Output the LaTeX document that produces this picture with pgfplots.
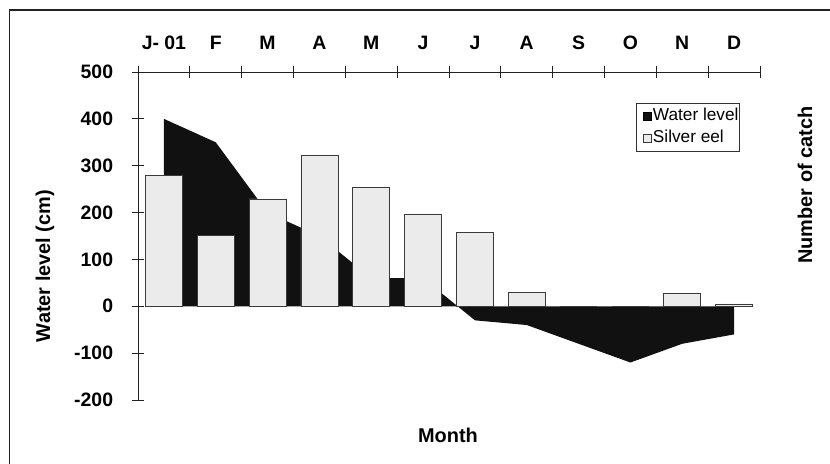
\documentclass[border=0pt]{standalone}
\usepackage{pgfplots}
\pgfplotsset{compat=1.18}
\usepackage{fontspec}
\setmainfont{Liberation Sans}
\definecolor{wl}{HTML}{111111}
\definecolor{eel}{HTML}{EBEBEB}
\definecolor{edge}{HTML}{3A3A3A}
\definecolor{axc}{HTML}{222222}
\begin{document}
\begin{tikzpicture}
\begin{axis}[
  at={(138bp,64bp)}, anchor=south west,
  scale only axis, width=622bp, height=328bp,
  xmin=0, xmax=12, ymin=-200, ymax=500,
  axis x line=top, axis y line=left,
  axis line style={-, line width=0.8bp, draw=axc},
  tick align=center,
  ytick={-200,-100,0,100,200,300,400,500},
  yticklabels={-200,-100,0,100,200,300,400,500},
  major tick length=12bp, minor tick length=12bp,
  xtick={0.5,1.5,2.5,3.5,4.5,5.5,6.5,7.5,8.5,9.5,10.5,11.5},
  xticklabels={J- 01,F,M,A,M,J,J,A,S,O,N,D},
  minor xtick={0,1,2,3,4,5,6,7,8,9,10,11,12},
  every major x tick/.style={draw=none},
  every minor x tick/.style={line width=0.8bp, draw=axc},
  every major y tick/.style={line width=0.8bp, draw=axc},
  ticklabel style={font=\bfseries\fontsize{19.5}{22}\selectfont, inner sep=0pt},
  xticklabel shift=16bp,
  yticklabel style={anchor=east, xshift=-18.7bp},
  legend style={at={(rel axis cs:0.9667,0.9055)}, anchor=north east, draw=black!80, line width=0.6bp,
    font=\fontsize{17.3}{20}\selectfont, inner xsep=0bp, inner ysep=3.5bp, row sep=3bp,
    nodes={inner xsep=0.5bp, inner ysep=1.5bp, text height=12.5bp, text depth=3.5bp},
    cells={anchor=west}},
  legend image code/.code={\path[draw=none, fill=none] (0bp,0bp) -- (16bp,0bp);
    \draw[#1, line width=0.5bp] (6.5bp,-4bp) rectangle (14.5bp,4bp);},
  clip=false,
]
\addplot[fill=wl, draw=none] coordinates {
  (0.5,0) (0.5,400) (1.5,350) (2.5,200) (3.5,150) (4.5,60) (5.5,60)
  (6.5,-30) (7.5,-40) (8.5,-80) (9.5,-120) (10.5,-80) (11.5,-60) (11.5,0)
};
\addlegendentry{Water level}
\addplot[ybar, bar width=37bp, fill=eel, draw=edge, line width=0.8bp] coordinates {
  (0.5,280) (1.5,151) (2.5,229) (3.5,323) (4.5,254) (5.5,197)
  (6.5,158) (7.5,29) (8.5,0) (9.5,0) (10.5,27) (11.5,5)
};
\addlegendentry{Silver eel}
\end{axis}
\node[rotate=90, font=\bfseries\fontsize{20}{22}\selectfont] at (45bp,198bp) {Water level (cm)};
\node[rotate=90, font=\bfseries\fontsize{20}{22}\selectfont] at (805bp,279bp) {Number of catch};
\node[font=\bfseries\fontsize{20}{22}\selectfont] at (448bp,28.3bp) {Month};
\draw[line width=1.5bp, axc] (9.5bp,-20bp) rectangle (845bp,454bp);
\pgfresetboundingbox
\path[use as bounding box] (0,0) rectangle (830bp,464bp);
\end{tikzpicture}
\end{document}
